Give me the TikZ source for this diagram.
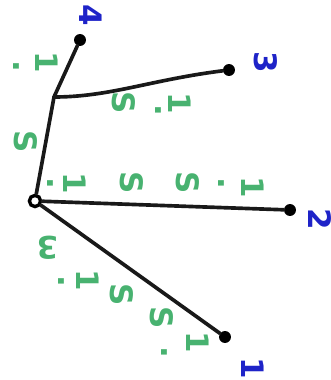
\documentclass[tikz,border=0pt]{standalone}
\usepackage{fontspec}
\setmainfont{DejaVu Sans}
\usetikzlibrary{positioning}
\definecolor{inkgreen}{RGB}{72,178,112}
\definecolor{inkblue}{RGB}{30,35,200}
\begin{document}
\begin{tikzpicture}[
        x=0.025cm, y=-0.025cm,
        font=\fontsize{22}{26}\selectfont\bfseries,
        % Styles
        leaf/.style={circle, fill=black, inner sep=0pt, minimum size=8.5pt},
        rootnode/.style={circle, draw=black, line width=2.4pt, inner sep=0pt, minimum size=8pt},
        edge/.style={line width=2.6pt, line cap=round, draw=black!90},
        nodelabel/.style={text=inkblue, rotate=-90, inner sep=0pt},
        weight/.style={text=inkgreen, rotate=-90, inner sep=0pt}
    ]
    \useasboundingbox (0,0) rectangle (330,380);

    % Tree nodes
    \node[rootnode] (root) at (35,201) {};
    \coordinate (split) at (54,97);
    \node[leaf] (n4) at (80,40) {};
    \node[leaf] (n3) at (229,70) {};
    \node[leaf] (n2) at (290,210) {};
    \node[leaf] (n1) at (225,337) {};

    % Edges
    \draw[edge] (root) -- (split) -- (n4);
    \draw[edge] (split) .. controls (110,97) and (150,80) .. (n3);
    \draw[edge] (root) -- (n2);
    \draw[edge] (root) -- (n1);

    % Node labels
    \node[nodelabel] (l4) at (91,15) {4};
    \node[nodelabel] (l3) at (266,62) {3};
    \node[nodelabel] (l2) at (320,219) {2};
    \node[nodelabel] (l1) at (253,368) {1};

    % Weights, edge to 4
    \node[weight] (a1) at (16,66) {.};
    \node[weight] (a2) at (47,62) {1};
    \node[weight] (a3) at (26,142) {S};

    % Weights, edge to 3
    \node[weight] (b1) at (124,103) {S};
    \node[weight] (b2) at (158,110) {.};
    \node[weight] (b3) at (180,103) {1};

    % Weights, edge to 2
    \node[weight] (c1) at (50,183) {.};
    \node[weight] (c2) at (75,183) {1};
    \node[weight] (c3) at (132,183) {S};
    \node[weight] (c4) at (188,183) {S};
    \node[weight] (c5) at (221,183) {.};
    \node[weight] (c6) at (253,187) {1};

    % Weights, edge to 1
    \node[text=inkgreen, inner sep=0pt, rotate=180] (d1) at (48,248) {3};
    \node[weight] (d2) at (61,281) {.};
    \node[weight] (d3) at (88,280) {1};
    \node[weight] (d4) at (122,295) {S};
    \node[weight] (d5) at (162,318) {S};
    \node[weight] (d6) at (164,352) {.};
    \node[weight] (d7) at (198,342) {1};

\end{tikzpicture}
\end{document}
